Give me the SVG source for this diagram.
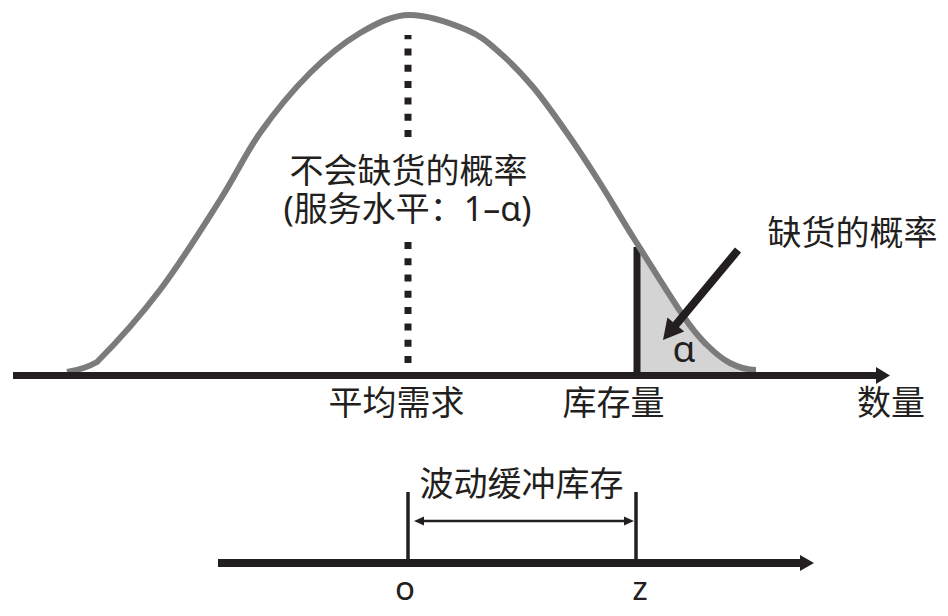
<svg xmlns="http://www.w3.org/2000/svg" width="948" height="616" viewBox="0 0 948 616">
<defs>
<style>
.t{font-family:"Noto Sans","Noto Sans CJK SC",sans-serif;font-size:34px;fill:#231f20;text-anchor:middle}
.ax{stroke:#231f20;fill:none}
.hd{fill:#231f20;stroke:none}
</style>
<clipPath id="tail"><rect x="637" y="200" width="130" height="180"/></clipPath>
</defs>
<rect width="948" height="616" fill="#ffffff"/>

<g id="shaded-area">
<path clip-path="url(#tail)" fill="#d4d4d4" d="M67,372 Q85,369 97,362 C114,345 139.5,317 160,290 C180.5,263 203.3,226.2 220,200 C236.7,173.8 245,154.2 260,133 C275,111.8 293.3,89.7 310,73 C326.7,56.3 344.2,42.5 360,33 C376.7,23.3 392,15 410,15 C428,15 452,23.7 467,30 C482,36.3 489,43.5 500,53 C511,62.5 521.8,73.7 533,87 C544.2,100.3 555.8,117 567,133 C578.2,149 589,165.7 600,183 C611,200.3 619,214.7 633,237 C647,259.3 671.7,299 684,317 C696.3,335 699.3,337.3 707,345 C714.7,352.7 721.8,358.8 730,363 C738.2,367.2 748,370 756,370 L756,376 L67,376 Z"/>
</g>

<g id="stock-line">
<line class="ax" x1="637" y1="247" x2="637" y2="376" stroke-width="7"/>
</g>

<g id="curve">
<path fill="none" stroke="#7b7b7b" stroke-width="6" d="M67,372 Q85,369 97,362 C114,345 139.5,317 160,290 C180.5,263 203.3,226.2 220,200 C236.7,173.8 245,154.2 260,133 C275,111.8 293.3,89.7 310,73 C326.7,56.3 344.2,42.5 360,33 C376.7,23.3 392,15 410,15 C428,15 452,23.7 467,30 C482,36.3 489,43.5 500,53 C511,62.5 521.8,73.7 533,87 C544.2,100.3 555.8,117 567,133 C578.2,149 589,165.7 600,183 C611,200.3 619,214.7 633,237 C647,259.3 671.7,299 684,317 C696.3,335 699.3,337.3 707,345 C714.7,352.7 721.8,358.8 730,363 C738.2,367.2 748,370 756,370"/>
</g>

<g id="connectors">
<path class="ax" stroke-width="7" stroke-dasharray="7 9.3" d="M408,137 V35"/>
<path class="ax" stroke-width="7" stroke-dasharray="7 9.3" d="M408,363 V242"/>
<line class="ax" x1="13" y1="375.5" x2="878" y2="375.5" stroke-width="7"/>
<polygon class="hd" points="876,367 890,375.5 876,384"/>
<line class="ax" x1="738" y1="250" x2="674" y2="327" stroke-width="8"/>
<polygon class="hd" points="663,340 667.4,317.6 684.2,331.6"/>
<line class="ax" x1="218" y1="563" x2="802" y2="563" stroke-width="8"/>
<polygon class="hd" points="800,555 814,563 800,571"/>
<line class="ax" x1="408" y1="492" x2="408" y2="563" stroke-width="3.5"/>
<line class="ax" x1="636" y1="492" x2="636" y2="563" stroke-width="3.5"/>
<line class="ax" x1="421" y1="521" x2="627" y2="521" stroke-width="2.5"/>
<polygon class="hd" points="414,521 424,516.5 424,525.5"/>
<polygon class="hd" points="634,521 624,516.5 624,525.5"/>
</g>

<g id="label-no-stockout">
<text class="t" x="408.5" y="183">不会缺货的概率</text>
<text class="t" x="407.5" y="221">(服务水平：1–α)</text>
</g>
<g id="label-stockout">
<text class="t" x="852.5" y="244.5">缺货的概率</text>
</g>
<g id="label-alpha">
<text class="t" x="684" y="362" style="font-size:37px">α</text>
</g>
<g id="label-mean">
<text class="t" x="396.5" y="414.5">平均需求</text>
</g>
<g id="label-stock">
<text class="t" x="613.5" y="414.5">库存量</text>
</g>
<g id="label-quantity">
<text class="t" x="891" y="415">数量</text>
</g>
<g id="label-buffer">
<text class="t" x="521.5" y="495.5">波动缓冲库存</text>
</g>
<g id="label-o">
<text class="t" x="405" y="600" style="font-size:33px">o</text>
</g>
<g id="label-z">
<text class="t" x="640" y="600" style="font-size:33px">z</text>
</g>
</svg>
